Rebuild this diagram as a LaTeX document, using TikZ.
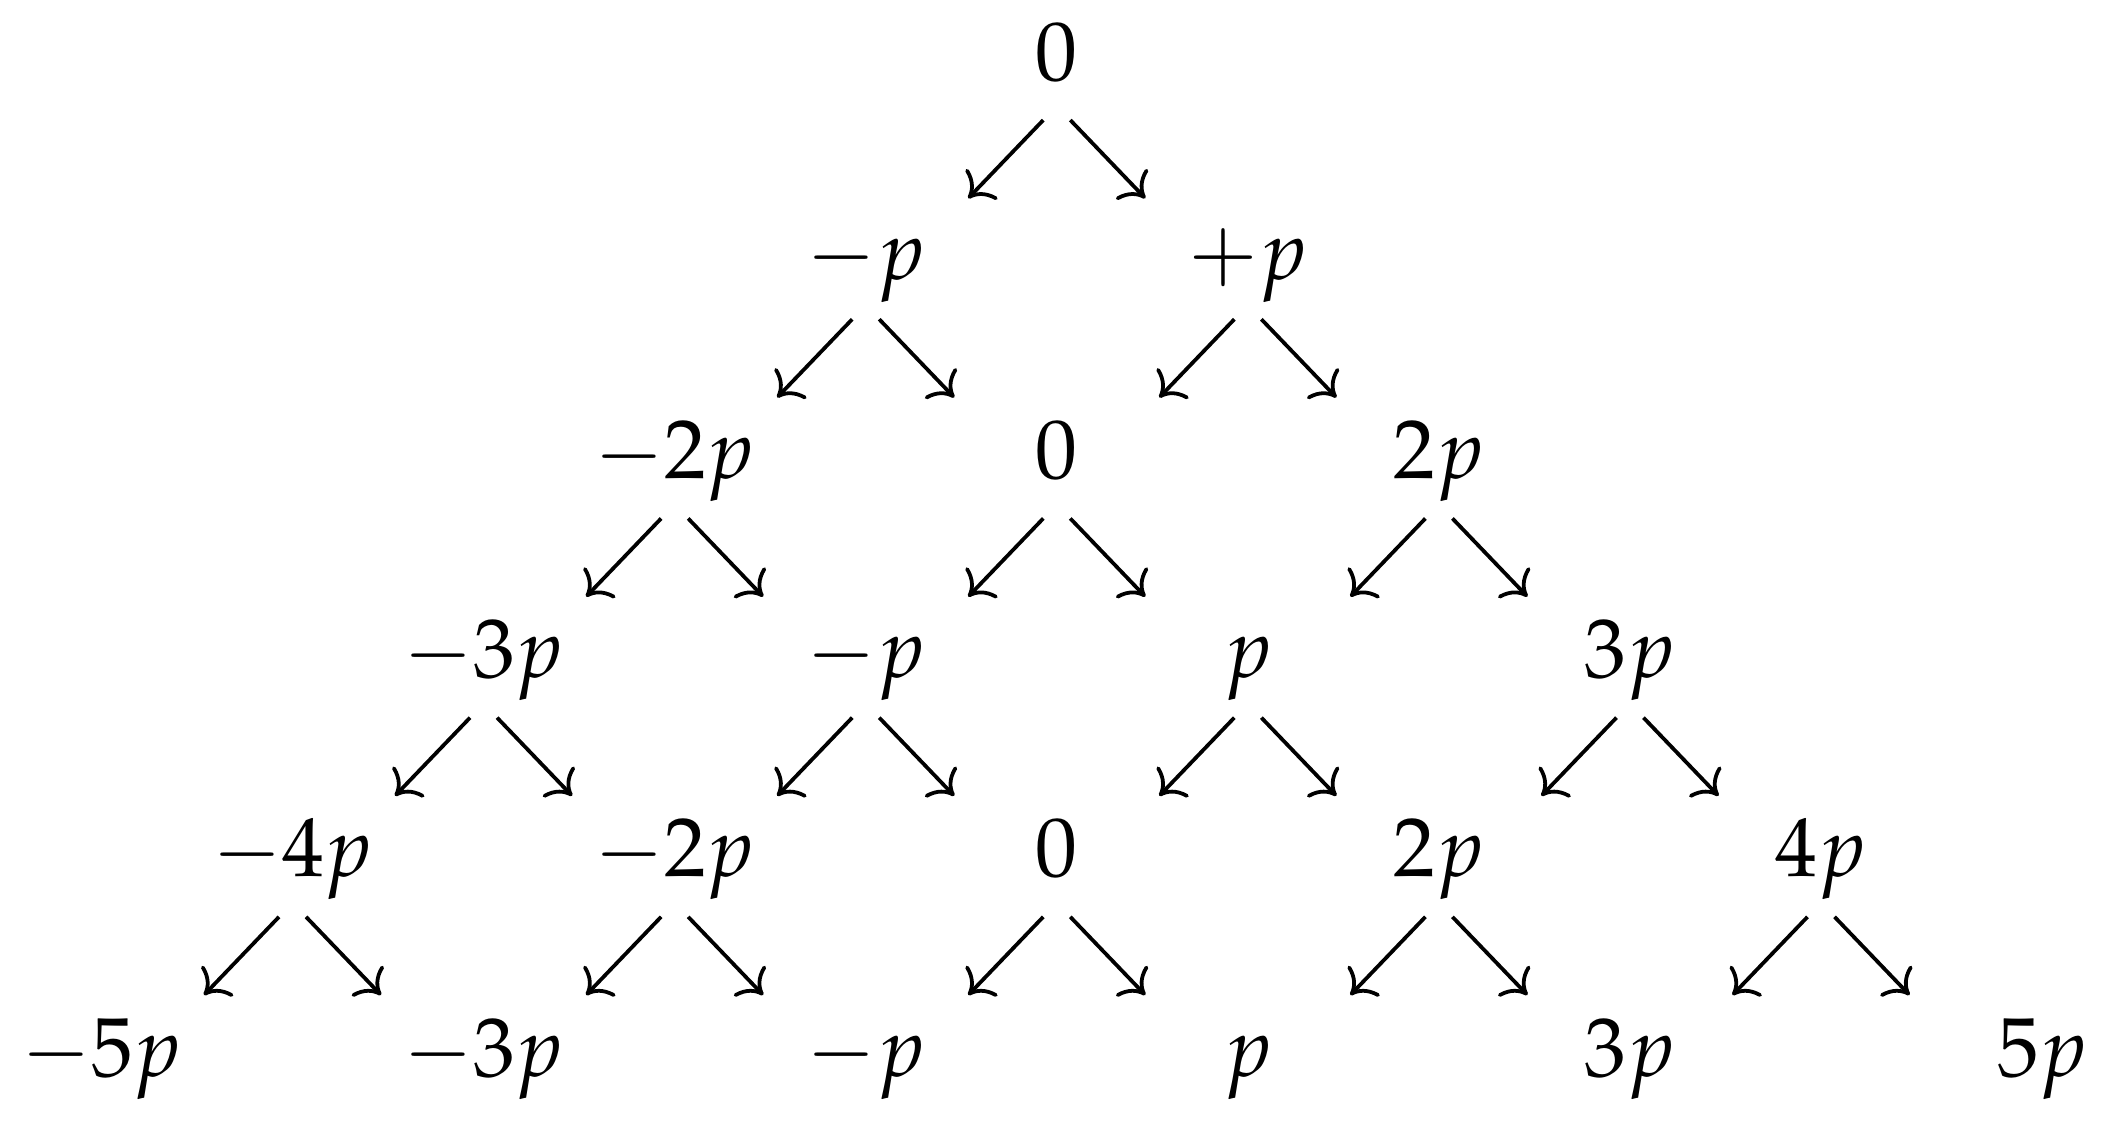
\documentclass[tikz,border=0pt]{standalone}
\usepackage{mathpazo}
\usetikzlibrary{arrows.meta}

\tikzset{
  val/.style={anchor=base,inner sep=0pt},
  arr/.style={-{To[length=2.5pt,width=5.2pt]},line width=0.45pt,shorten <=2.33pt,shorten >=17.68pt}
}

\begin{document}
\begin{tikzpicture}[x=22.8pt,y=23.77pt]
\useasboundingbox (-5.531,0.402) rectangle (5.507,-5.251);

\node[val] (t) at (0,0) {$0$};

\node[val] (a1) at (-1,-1) {$-p$};
\node[val] (a2) at (1,-1) {$+p$};

\node[val] (b1) at (-2,-2) {$-2p$};
\node[val] (b2) at (0,-2) {$0$};
\node[val] (b3) at (2,-2) {$2p$};

\node[val] (c1) at (-3,-3) {$-3p$};
\node[val] (c2) at (-1,-3) {$-p$};
\node[val] (c3) at (1,-3) {$p$};
\node[val] (c4) at (3,-3) {$3p$};

\node[val] (d1) at (-4,-4) {$-4p$};
\node[val] (d2) at (-2,-4) {$-2p$};
\node[val] (d3) at (0,-4) {$0$};
\node[val] (d4) at (2,-4) {$2p$};
\node[val] (d5) at (4,-4) {$4p$};

\node[val] (e1) at (-5,-5) {$-5p$};
\node[val] (e2) at (-3,-5) {$-3p$};
\node[val] (e3) at (-1,-5) {$-p$};
\node[val] (e4) at (1,-5) {$p$};
\node[val] (e5) at (3,-5) {$3p$};
\node[val] (e6) at (5.16,-5) {$5p$};

\draw[arr] ([yshift=-3.09pt]t.base) -- ([yshift=-3.09pt]a1.base);
\draw[arr] ([yshift=-3.09pt]t.base) -- ([yshift=-3.09pt]a2.base);

\draw[arr] ([yshift=-3.09pt]a1.base) -- ([yshift=-3.09pt]b1.base);
\draw[arr] ([yshift=-3.09pt]a1.base) -- ([yshift=-3.09pt]b2.base);
\draw[arr] ([yshift=-3.09pt]a2.base) -- ([yshift=-3.09pt]b2.base);
\draw[arr] ([yshift=-3.09pt]a2.base) -- ([yshift=-3.09pt]b3.base);

\draw[arr] ([yshift=-3.09pt]b1.base) -- ([yshift=-3.09pt]c1.base);
\draw[arr] ([yshift=-3.09pt]b1.base) -- ([yshift=-3.09pt]c2.base);
\draw[arr] ([yshift=-3.09pt]b2.base) -- ([yshift=-3.09pt]c2.base);
\draw[arr] ([yshift=-3.09pt]b2.base) -- ([yshift=-3.09pt]c3.base);
\draw[arr] ([yshift=-3.09pt]b3.base) -- ([yshift=-3.09pt]c3.base);
\draw[arr] ([yshift=-3.09pt]b3.base) -- ([yshift=-3.09pt]c4.base);

\draw[arr] ([yshift=-3.09pt]c1.base) -- ([yshift=-3.09pt]d1.base);
\draw[arr] ([yshift=-3.09pt]c1.base) -- ([yshift=-3.09pt]d2.base);
\draw[arr] ([yshift=-3.09pt]c2.base) -- ([yshift=-3.09pt]d2.base);
\draw[arr] ([yshift=-3.09pt]c2.base) -- ([yshift=-3.09pt]d3.base);
\draw[arr] ([yshift=-3.09pt]c3.base) -- ([yshift=-3.09pt]d3.base);
\draw[arr] ([yshift=-3.09pt]c3.base) -- ([yshift=-3.09pt]d4.base);
\draw[arr] ([yshift=-3.09pt]c4.base) -- ([yshift=-3.09pt]d4.base);
\draw[arr] ([yshift=-3.09pt]c4.base) -- ([yshift=-3.09pt]d5.base);

\draw[arr] ([yshift=-3.09pt]d1.base) -- ([yshift=-3.09pt]e1.base);
\draw[arr] ([yshift=-3.09pt]d1.base) -- ([yshift=-3.09pt]e2.base);
\draw[arr] ([yshift=-3.09pt]d2.base) -- ([yshift=-3.09pt]e2.base);
\draw[arr] ([yshift=-3.09pt]d2.base) -- ([yshift=-3.09pt]e3.base);
\draw[arr] ([yshift=-3.09pt]d3.base) -- ([yshift=-3.09pt]e3.base);
\draw[arr] ([yshift=-3.09pt]d3.base) -- ([yshift=-3.09pt]e4.base);
\draw[arr] ([yshift=-3.09pt]d4.base) -- ([yshift=-3.09pt]e4.base);
\draw[arr] ([yshift=-3.09pt]d4.base) -- ([yshift=-3.09pt]e5.base);
\draw[arr] ([yshift=-3.09pt]d5.base) -- ([yshift=-3.09pt]e5.base);
\draw[arr] ([yshift=-3.09pt]d5.base) -- ([xshift=-3.65pt,yshift=-3.09pt]e6.base);
\end{tikzpicture}
\end{document}
